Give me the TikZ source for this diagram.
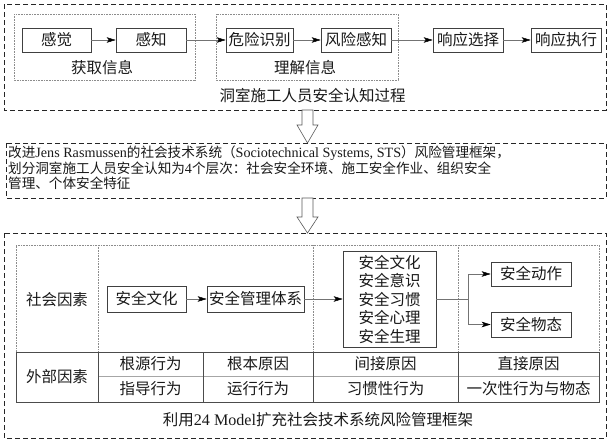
\documentclass[tikz,border=0pt]{standalone}
\usepackage{fontspec}
\setmainfont{Liberation Serif}
\newfontfamily\cjk{Noto Sans CJK SC}
\newfontfamily\latf[Scale=1.04]{Liberation Serif}
\newcommand\lat[1]{{\latf #1}}
\usetikzlibrary{arrows.meta}
\begin{document}
\begin{tikzpicture}[x=1pt,y=-1pt,
  every node/.style={font=\cjk\fontsize{15.5}{18.5}\selectfont, inner sep=0pt, text=black!90},
  box/.style={draw=black!75, line width=0.6pt, minimum height=24pt, minimum width=70pt, fill=white},
  conn/.style={draw=black!55, line width=0.45pt},
  arr/.style={conn, -{Stealth[length=9pt,width=5.5pt,inset=2.2pt,color=black]}},
  outer/.style={draw=black!85, line width=0.6pt, dash pattern=on 5pt off 3pt},
  grp/.style={draw=black!45, line width=0.5pt, dash pattern=on 0.8pt off 0.8pt},
  cell/.style={draw=black!70, line width=0.6pt},
  thin/.style={draw=black!35, line width=0.5pt},
  hollow/.style={draw=black!65, line width=0.6pt, fill=white}]
\useasboundingbox (0,0) rectangle (608,442);
% ---------- top block ----------
\draw[outer] (4,4) rectangle (606,110);
\draw[grp] (14,14) rectangle (195,80);
\draw[grp] (216,14) rectangle (398,80);
\node[box, minimum width=69pt] (gj) at (56.5,40) {感觉};
\node[box] (gz) at (151,40) {感知};
\node[box, minimum width=67pt] (wx) at (259.5,40) {危险识别};
\node[box] (fx) at (356,40) {风险感知};
\node[box] (xx) at (468,40) {响应选择};
\node[box] (xz) at (566,40) {响应执行};
\draw[arr] (gj) -- (gz);
\draw[arr] (gz) -- (wx);
\draw[arr] (wx) -- (fx);
\draw[arr] (fx) -- (xx);
\draw[arr] (xx) -- (xz);
\node (hq) at (102,68) {获取信息};
\node (lj) at (305,68) {理解信息};
\node (cap1) at (312.5,96) {洞室施工人员安全认知过程};
% hollow arrow 1
\draw[hollow] (302,110) -- (313,110) -- (313,125) -- (318,125) -- (307.5,143) -- (297,125) -- (302,125) -- cycle;
% ---------- middle block ----------
\draw[outer] (6,143) rectangle (606,198);
\node[anchor=north west, align=left, font=\cjk\fontsize{13.6}{15.2}\selectfont] (sts) at (8,146)
 {改进\lat{Jens Rasmussen}的社会技术系统（\lat{Sociotechnical Systems, STS}）风险管理框架，\\
  划分洞室施工人员安全认知为\lat{4}个层次：社会安全环境、施工安全作业、组织安全\\
  管理、个体安全特征};
% hollow arrow 2
\draw[hollow] (302,198) -- (313,198) -- (313,217) -- (318,217) -- (307.5,233) -- (297,217) -- (302,217) -- cycle;
% ---------- bottom block ----------
\draw[outer] (4,233) rectangle (606,438);
% upper area (dotted)
\draw[grp] (16,352) -- (16,245) -- (599,245) -- (599,352);
\draw[grp] (98,245) -- (98,352);
\draw[grp] (313,245) -- (313,352);
\draw[grp] (458,245) -- (458,352);
% lower area (solid)
\draw[cell] (16,352) rectangle (599,402);
\draw[thin] (98,376) -- (599,376);
\foreach \xx in {98,203,313,458} \draw[cell] (\xx,352) -- (\xx,402);
\node (sh) at (57,300) {社会因素};
\node[box, minimum width=79pt, minimum height=26pt] (wh) at (146.5,299) {安全文化};
\node[box, minimum width=97pt, minimum height=26pt] (tx) at (255.5,299) {安全管理体系};
\node[box, minimum width=93pt, minimum height=96pt, align=center] (big) at (389.5,299)
 {安全文化\\安全意识\\安全习惯\\安全心理\\安全生理};
\node[box, minimum width=80pt] (dz) at (531,274) {安全动作};
\node[box, minimum width=80pt, minimum height=25pt] (wt) at (531,324.5) {安全物态};
\draw[arr] (wh) -- (tx);
\draw[arr] (tx) -- (big);
\draw[conn] (big.east) -- (468,299) coordinate (br);
\draw[arr] (br) |- (dz.west);
\draw[arr] (br) |- (wt.west);
\node (wb) at (57,377) {外部因素};
\node (a1) at (150.5,364) {根源行为};
\node (a2) at (150.5,389) {指导行为};
\node (b1) at (258,364) {根本原因};
\node (b2) at (258,389) {运行行为};
\node (c1) at (385.5,364) {间接原因};
\node (c2) at (385.5,389) {习惯性行为};
\node (d1) at (528.5,364) {直接原因};
\node (d2) at (528.5,389) {一次性行为与物态};
\node (cap3) at (318,420) {利用\lat{24 Model}扩充社会技术系统风险管理框架};
\end{tikzpicture}
\end{document}
